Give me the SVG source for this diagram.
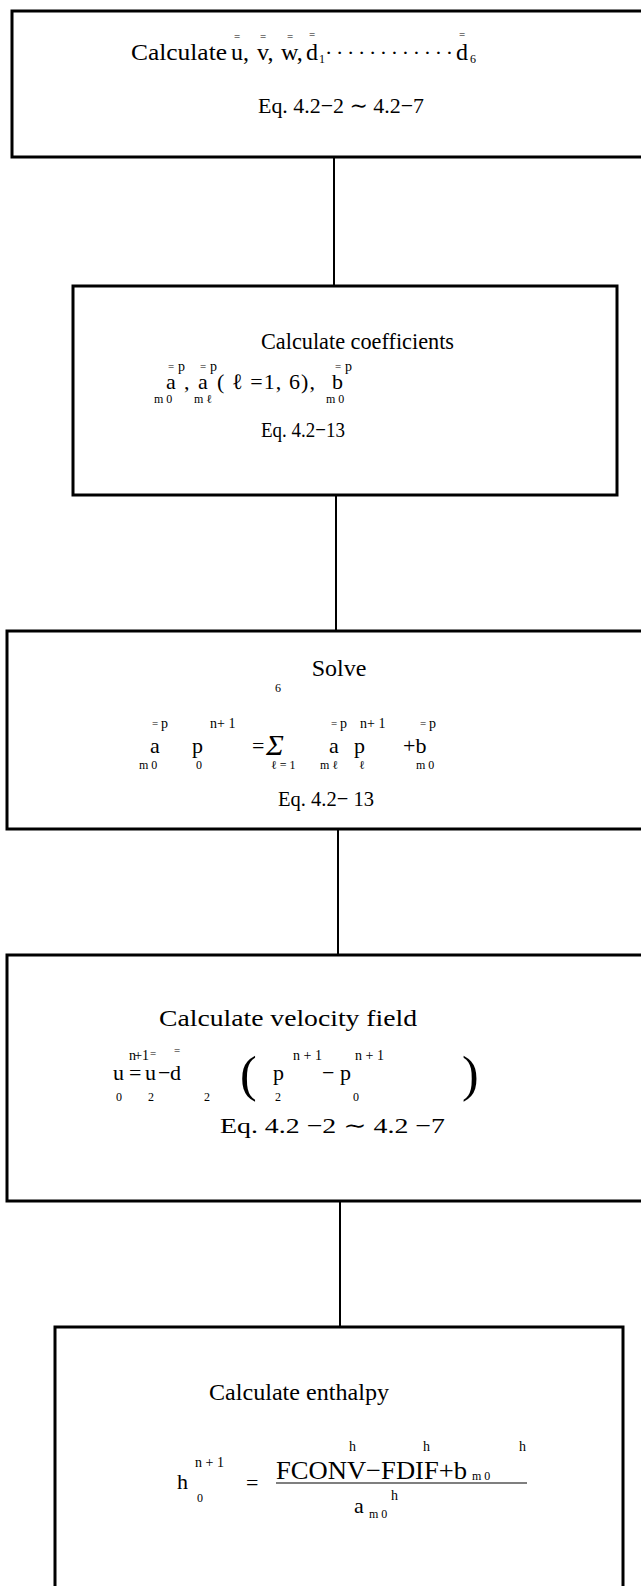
<svg xmlns="http://www.w3.org/2000/svg" width="641" height="1586" viewBox="0 0 641 1586">
<style>
.box{fill:#fff;stroke:#000;stroke-width:3}
.con line{stroke:#000;stroke-width:2}
text{font-family:"Liberation Serif","DejaVu Serif",serif;fill:#000}
.t{font-size:24px}
.f{font-size:22px}
.s{font-size:14px}
.b{font-size:12px}
.o{font-size:11px;text-anchor:middle}
</style>
<rect width="641" height="1586" fill="#fff"/>
<g id="connectors" class="con">
<line x1="334" y1="157" x2="334" y2="286"/>
<line x1="336" y1="495" x2="336" y2="631"/>
<line x1="338" y1="829" x2="338" y2="955"/>
<line x1="340" y1="1201" x2="340" y2="1327"/>
</g>
<g id="node1">
<rect class="box" x="12" y="11" width="640" height="146"/>
<text class="t" x="131" y="60" textLength="96" lengthAdjust="spacingAndGlyphs">Calculate</text>
<text class="t" x="231" y="60">u,</text>
<text class="t" x="257" y="60">v,</text>
<text class="t" x="281" y="60">w,</text>
<text class="t" x="306" y="60">d</text>
<text class="b" x="319" y="63">1</text>
<text class="f" x="325" y="60" textLength="128" lengthAdjust="spacing">············</text>
<text class="t" x="456" y="60">d</text>
<text class="b" x="470" y="63">6</text>
<text class="o" x="237" y="40">=</text>
<text class="o" x="263" y="40">=</text>
<text class="o" x="290" y="40">=</text>
<text class="o" x="312" y="38">=</text>
<text class="o" x="462" y="38">=</text>
<text class="f" x="258" y="113" textLength="166" lengthAdjust="spacingAndGlyphs">Eq. 4.2−2 ∼ 4.2−7</text>
</g>
<g id="node2">
<rect class="box" x="73" y="286" width="544" height="209"/>
<text class="t" x="261" y="349" textLength="193" lengthAdjust="spacingAndGlyphs">Calculate coefficients</text>
<text class="o" x="171" y="370">=</text><text class="s" x="178" y="371">p</text>
<text class="f" x="166" y="389">a</text>
<text class="b" x="154" y="403">m 0</text>
<text class="f" x="184" y="389">,</text>
<text class="o" x="203" y="370">=</text><text class="s" x="210" y="371">p</text>
<text class="f" x="198" y="389">a</text>
<text class="b" x="194" y="403">m ℓ</text>
<text class="f" x="217" y="389" textLength="98" lengthAdjust="spacing">( ℓ =1, 6),</text>
<text class="o" x="338" y="370">=</text><text class="s" x="345" y="371">p</text>
<text class="f" x="332" y="389">b</text>
<text class="b" x="326" y="403">m 0</text>
<text class="f" x="261" y="437" textLength="84" lengthAdjust="spacingAndGlyphs">Eq. 4.2−13</text>
</g>
<g id="node3">
<rect class="box" x="7" y="631" width="645" height="198"/>
<text class="t" x="339" y="676" text-anchor="middle">Solve</text>
<text class="o" x="155" y="727">=</text><text class="s" x="161" y="728">p</text>
<text class="f" x="150" y="753">a</text>
<text class="b" x="139" y="769">m 0</text>
<text class="f" x="192" y="753">p</text>
<text class="b" x="196" y="769">0</text>
<text class="s" x="210" y="728">n+ 1</text>
<text class="f" x="252" y="753">=</text>
<text x="266" y="755" style="font-size:30px;font-style:italic">Σ</text>
<text class="b" x="275" y="692">6</text>
<text class="b" x="271" y="769">ℓ = 1</text>
<text class="o" x="334" y="727">=</text><text class="s" x="340" y="728">p</text>
<text class="f" x="329" y="753">a</text>
<text class="b" x="320" y="769">m ℓ</text>
<text class="f" x="354" y="753">p</text>
<text class="b" x="359" y="769">ℓ</text>
<text class="s" x="360" y="728">n+ 1</text>
<text class="f" x="403" y="753">+b</text>
<text class="o" x="423" y="727">=</text><text class="s" x="429" y="728">p</text>
<text class="b" x="416" y="769">m 0</text>
<text class="f" x="278" y="806" textLength="96" lengthAdjust="spacingAndGlyphs">Eq. 4.2− 13</text>
</g>
<g id="node4">
<rect class="box" x="7" y="955" width="645" height="246"/>
<text class="t" x="159" y="1026" textLength="258" lengthAdjust="spacingAndGlyphs">Calculate velocity field</text>
<text class="f" x="113" y="1080">u</text>
<text class="s" x="129" y="1060" textLength="20" lengthAdjust="spacing">n+ 1</text>
<text class="b" x="116" y="1101">0</text>
<text class="f" x="129" y="1080">=</text>
<text class="f" x="145" y="1080">u</text>
<text class="f" x="158" y="1080">−</text>
<text class="f" x="170" y="1080">d</text>
<text class="o" x="153" y="1057">=</text>
<text class="o" x="177" y="1054">=</text>
<text class="b" x="148" y="1101">2</text>
<text class="b" x="204" y="1101">2</text>
<text x="240" y="1091" style="font-size:50px">(</text>
<text class="f" x="273" y="1080">p</text>
<text class="s" x="293" y="1060">n + 1</text>
<text class="b" x="275" y="1101">2</text>
<text class="f" x="322" y="1080">− p</text>
<text class="s" x="355" y="1060">n + 1</text>
<text class="b" x="353" y="1101">0</text>
<text x="462" y="1091" style="font-size:50px">)</text>
<text class="f" x="220" y="1133" textLength="225" lengthAdjust="spacingAndGlyphs">Eq. 4.2 −2 ∼ 4.2 −7</text>
</g>
<g id="node5">
<rect class="box" x="55" y="1327" width="568" height="300"/>
<text class="t" x="209" y="1400" textLength="180" lengthAdjust="spacingAndGlyphs">Calculate enthalpy</text>
<text class="f" x="177" y="1489">h</text>
<text class="s" x="195" y="1467">n + 1</text>
<text class="b" x="197" y="1502">0</text>
<text class="f" x="246" y="1490">=</text>
<text x="276" y="1479" style="font-size:26px" textLength="191" lengthAdjust="spacingAndGlyphs">FCONV−FDIF+b</text>
<text class="b" x="472" y="1480">m 0</text>
<text class="s" x="349" y="1451">h</text>
<text class="s" x="423" y="1451">h</text>
<text class="s" x="519" y="1451">h</text>
<line x1="276" y1="1483" x2="527" y2="1483" stroke="#000" stroke-width="1.2"/>
<text class="f" x="354" y="1513">a</text>
<text class="b" x="369" y="1518">m 0</text>
<text class="s" x="391" y="1500">h</text>
</g>
</svg>
